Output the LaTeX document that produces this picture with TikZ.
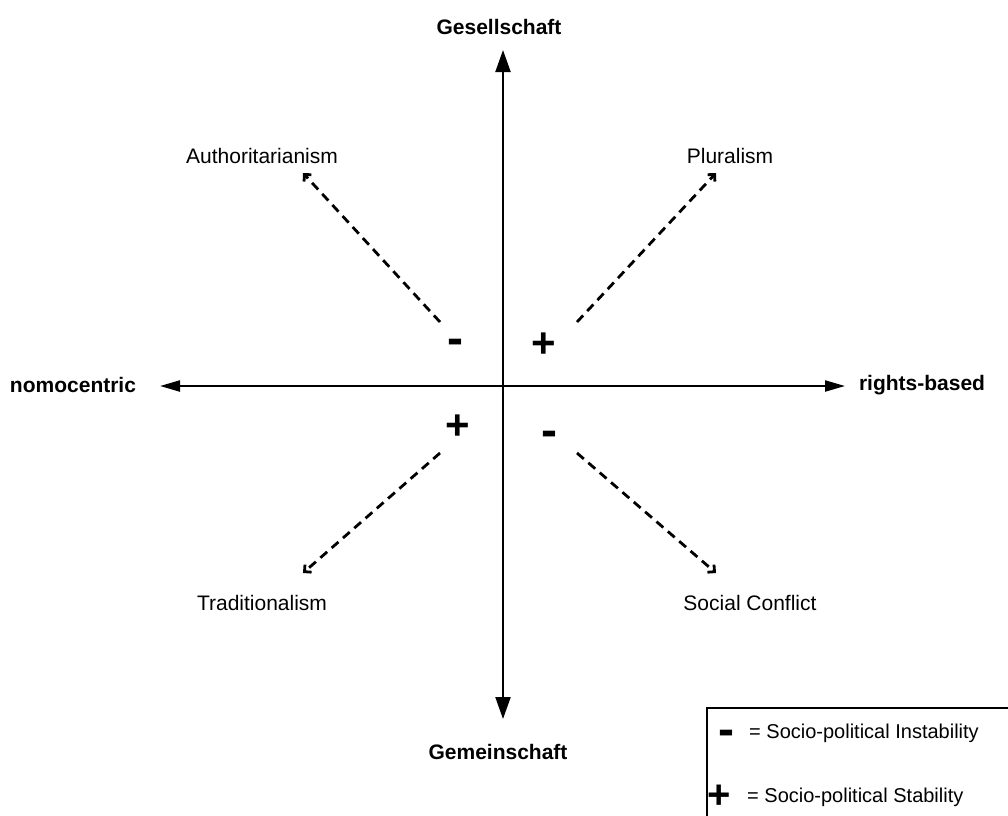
\documentclass[tikz,border=0pt]{standalone}
\usepackage{fontspec}
\setmainfont{Liberation Sans}
\usetikzlibrary{arrows.meta}
\begin{document}
\begin{tikzpicture}[x=1pt,y=-1pt,
  lbl/.style={font=\fontsize{21}{25}\selectfont, inner sep=0pt},
  axlbl/.style={font=\fontsize{21}{25}\selectfont\bfseries, inner sep=0pt},
  leglbl/.style={font=\fontsize{20}{24}\selectfont, inner sep=0pt, anchor=west},
  minussign/.style={font=\fontsize{48}{48}\selectfont\bfseries, inner sep=0pt, anchor=base},
  plussign/.style={font=\fontsize{42}{42}\selectfont\bfseries, inner sep=0pt, anchor=base},
  vaxis/.style={line width=2.2pt, -{Triangle[length=22pt,width=15pt]}},
  haxis/.style={line width=2.2pt, -{Triangle[length=20pt,width=11pt]}},
  dasharrow/.style={line width=2.8pt, dash pattern=on 9pt off 6pt,
    -{Straight Barb[angle'=90,length=5pt]}},
  legbox/.style={line width=2pt}]
\useasboundingbox (0,0) rectangle (1008,815);

% axes
\coordinate (O) at (503,386);
\coordinate (top) at (503,50);
\coordinate (bottom) at (503,719);
\coordinate (left) at (160,386);
\coordinate (right) at (845,386);
\draw[vaxis] (O) -- (top);
\draw[vaxis] (O) -- (bottom);
\draw[haxis] (O) -- (left);
\draw[haxis] (O) -- (right);

% axis labels
\node[axlbl] (gesell) at (499,27) {Gesellschaft};
\node[axlbl] (gemein) at (498,752) {Gemeinschaft};
\node[axlbl] (nomo) at (73,385) {nomocentric};
\node[axlbl] (rights) at (922,385) {rights-based};

% quadrant labels
\node[lbl] (auth) at (262,156) {Authoritarianism};
\node[lbl] (plur) at (730,156) {Pluralism};
\node[lbl] (trad) at (262,603) {Traditionalism};
\node[lbl] (soc) at (750,603) {Social Conflict};

% signs
\node[minussign] (s1) at (455,354) {-};
\node[plussign] (s2) at (544,357) {+};
\node[plussign] (s3) at (458,439) {+};
\node[minussign] (s4) at (549,446) {-};

% dashed arrows
\coordinate (a1s) at (440,322); \coordinate (a1e) at (303,173);
\coordinate (a2s) at (577,322); \coordinate (a2e) at (716,173);
\coordinate (a3s) at (440,453); \coordinate (a3e) at (303,573);
\coordinate (a4s) at (577,453); \coordinate (a4e) at (716,573);
\draw[dasharrow] (a1s) -- (a1e);
\draw[dasharrow] (a2s) -- (a2e);
\draw[dasharrow] (a3s) -- (a3e);
\draw[dasharrow] (a4s) -- (a4e);

% legend
\draw[legbox] (1012,708) -| (707,820);
\node[minussign] (lm) at (726,745) {-};
\node[plussign, font=\fontsize{40}{40}\selectfont\bfseries] (lp) at (719,808) {+};
\node[leglbl] (lt1) at (749,733) {= Socio-political Instability};
\node[leglbl] (lt2) at (747,797) {= Socio-political Stability};
\end{tikzpicture}
\end{document}
